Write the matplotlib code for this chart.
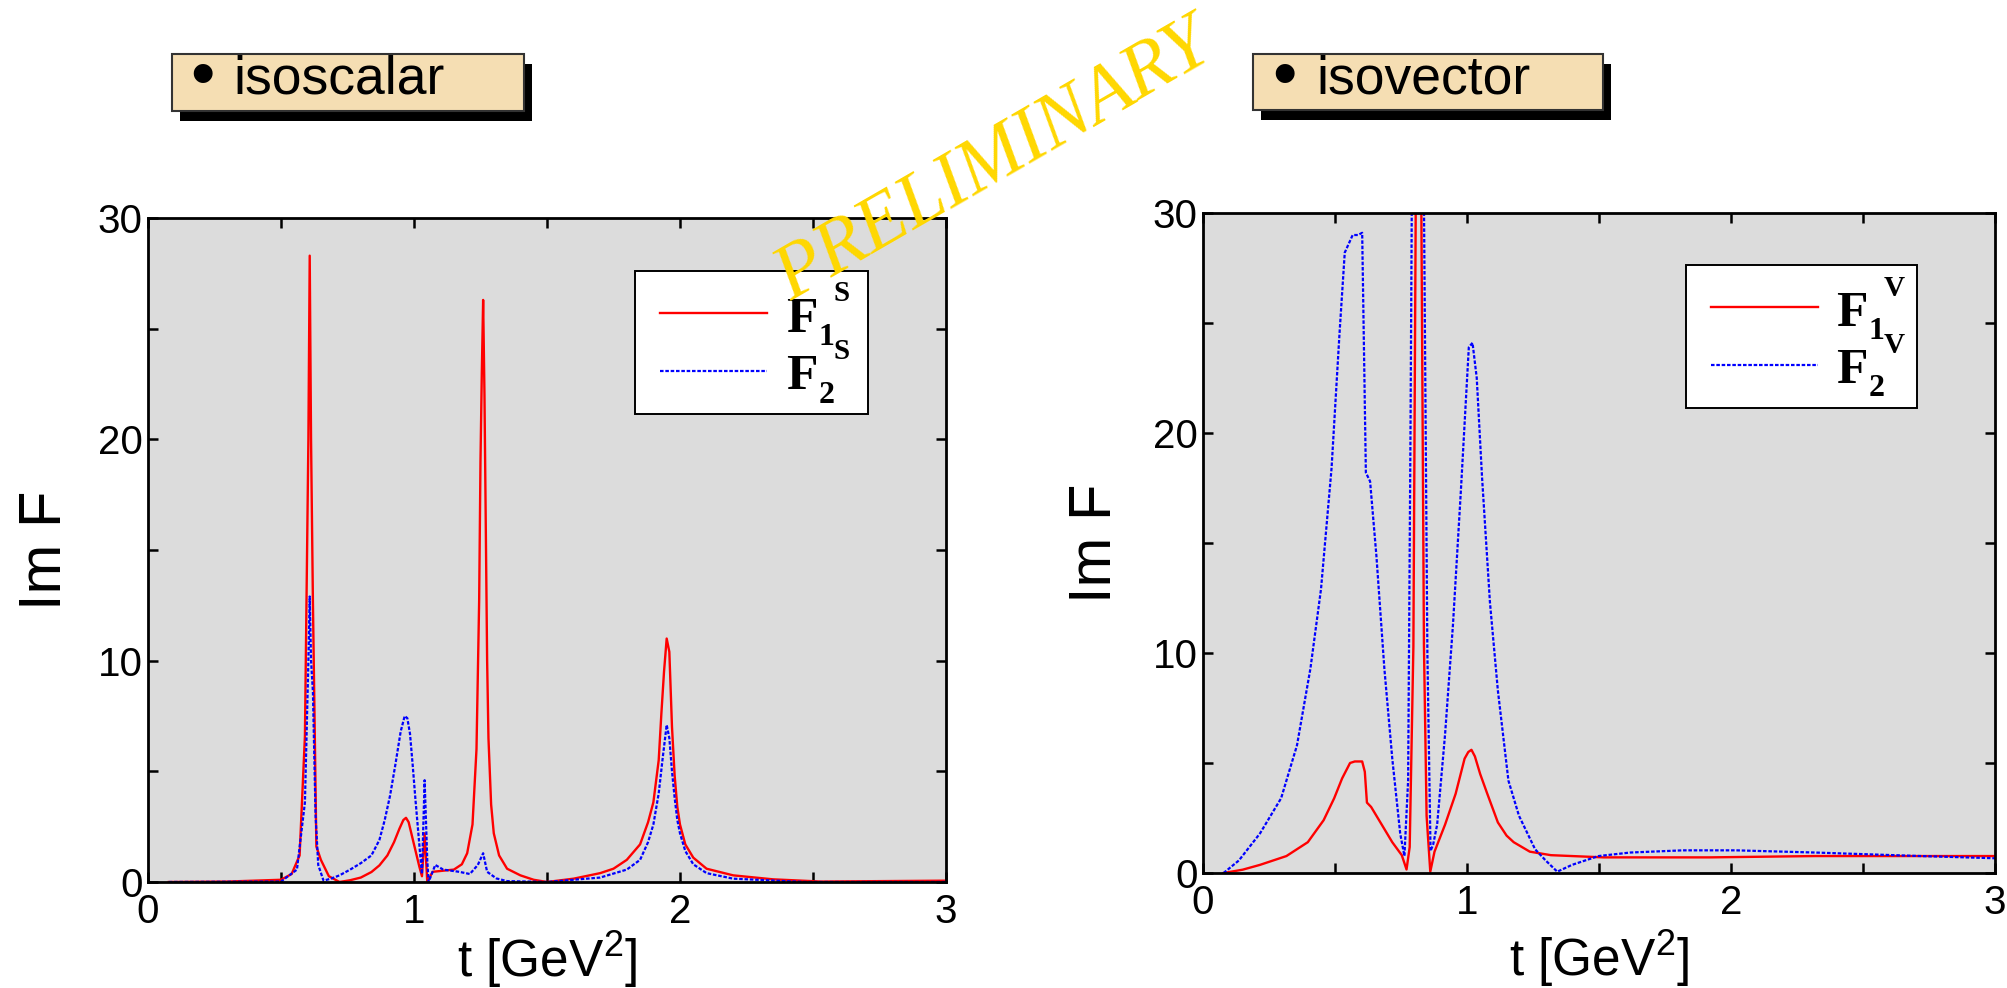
import matplotlib
matplotlib.use("Agg")
import matplotlib.pyplot as plt
from matplotlib.patches import Rectangle
from matplotlib.lines import Line2D

plt.rcParams['font.family'] = ['Liberation Sans', 'DejaVu Sans']
plt.rcParams['mathtext.fontset'] = 'custom'
plt.rcParams['mathtext.rm'] = 'Liberation Sans'
plt.rcParams['mathtext.it'] = 'Liberation Sans:italic'
plt.rcParams['mathtext.bf'] = 'Liberation Sans:bold'

# ---- isoscalar spectral functions ----
t_f1s = [0.078, 0.30, 0.50, 0.54, 0.57, 0.59, 0.603, 0.608, 0.613, 0.62, 0.633, 0.65,
         0.68, 0.72, 0.76, 0.80, 0.84, 0.87, 0.90, 0.925, 0.945, 0.96, 0.97, 0.98,
         0.99, 1.00, 1.01, 1.02, 1.03, 1.04, 1.05, 1.07, 1.15, 1.18, 1.20, 1.22,
         1.235, 1.245, 1.25, 1.255, 1.26, 1.265, 1.27, 1.275, 1.28, 1.29, 1.30,
         1.32, 1.35, 1.40, 1.45, 1.50, 1.60, 1.70, 1.75, 1.80, 1.85, 1.88, 1.90,
         1.92, 1.93, 1.94, 1.95, 1.96, 1.97, 1.98, 1.99, 2.00, 2.02, 2.05, 2.10,
         2.20, 2.35, 2.53, 3.0]
im_f1s = [0.0, 0.02, 0.1, 0.36, 1.2, 6.6, 20.0, 28.3, 20.0, 12.7, 1.6, 1.0,
          0.26, 0.0, 0.08, 0.2, 0.45, 0.75, 1.2, 1.8, 2.4, 2.8, 2.9, 2.7,
          2.2, 1.7, 1.2, 0.7, 0.26, 2.2, 0.0, 0.46, 0.56, 0.8, 1.3, 2.6,
          6.0, 12.7, 19.0, 23.0, 26.3, 22.0, 16.0, 10.0, 6.5, 3.5, 2.2,
          1.2, 0.6, 0.3, 0.1, 0.0, 0.15, 0.4, 0.6, 1.0, 1.7, 2.7, 3.6,
          5.5, 7.6, 9.5, 11.0, 10.4, 7.0, 4.8, 3.4, 2.6, 1.7, 1.1, 0.6,
          0.3, 0.12, 0.02, 0.06]

t_f2s = [0.078, 0.50, 0.56, 0.59, 0.603, 0.608, 0.613, 0.62, 0.63, 0.64, 0.66, 0.69,
         0.72, 0.76, 0.80, 0.84, 0.87, 0.89, 0.91, 0.93, 0.95, 0.965, 0.975, 0.985,
         0.995, 1.005, 1.015, 1.025, 1.03, 1.04, 1.05, 1.055, 1.08, 1.11, 1.17,
         1.21, 1.24, 1.26, 1.275, 1.31, 1.35, 1.50, 1.70, 1.80, 1.85, 1.88, 1.90,
         1.92, 1.935, 1.95, 1.96, 1.97, 1.98, 1.99, 2.00, 2.02, 2.05, 2.10, 2.20,
         2.47, 3.0]
im_f2s = [0.0, 0.02, 0.56, 3.6, 10.0, 12.9, 10.0, 8.6, 3.0, 0.77, 0.06, 0.16,
          0.3, 0.56, 0.85, 1.2, 1.9, 2.8, 3.9, 5.3, 6.8, 7.5, 7.4, 6.7,
          5.3, 3.8, 2.4, 1.0, 0.36, 4.6, 0.97, 0.0, 0.77, 0.56, 0.46,
          0.36, 0.77, 1.3, 0.46, 0.16, 0.04, 0.0, 0.2, 0.56, 1.0, 1.8, 2.6,
          4.0, 5.6, 7.1, 6.5, 5.0, 3.8, 2.8, 2.2, 1.4, 0.8, 0.4, 0.15,
          0.0, 0.0]

# ---- isovector spectral functions ----
t_f1v = [0.078, 0.15, 0.216, 0.316, 0.397, 0.457, 0.497, 0.527, 0.557, 0.575, 0.603,
         0.613, 0.621, 0.637, 0.677, 0.717, 0.753, 0.771, 0.783, 0.797, 0.806,
         0.814, 0.820, 0.827, 0.837, 0.847, 0.861, 0.877, 0.917, 0.957, 0.991,
         1.005, 1.017, 1.03, 1.05, 1.077, 1.117, 1.15, 1.177, 1.238, 1.318, 1.518,
         1.919, 2.319, 3.0]
im_f1v = [0.0, 0.15, 0.37, 0.77, 1.4, 2.4, 3.4, 4.3, 5.0, 5.07, 5.07,
          4.6, 3.2, 3.0, 2.2, 1.4, 0.81, 0.16, 1.18, 10.3, 30.5,
          45.0, 45.0, 30.5, 10.3, 2.6, 0.06, 0.97, 2.2, 3.6, 5.2,
          5.5, 5.6, 5.3, 4.5, 3.6, 2.3, 1.7, 1.4, 0.97, 0.81, 0.71,
          0.71, 0.77, 0.77]

t_f2v = [0.078, 0.136, 0.216, 0.296, 0.356, 0.407, 0.447, 0.487, 0.517, 0.537,
         0.567, 0.587, 0.603, 0.617, 0.633, 0.657, 0.687, 0.717, 0.747, 0.763,
         0.777, 0.786, 0.791, 0.80, 0.83, 0.837, 0.850, 0.862, 0.872, 0.887,
         0.917, 0.947, 0.977, 1.007, 1.021, 1.037, 1.057, 1.087, 1.117, 1.157,
         1.197, 1.258, 1.298, 1.342, 1.398, 1.498, 1.618, 1.818, 2.019, 2.319,
         2.72, 3.0]
im_f2v = [0.0, 0.57, 1.8, 3.4, 5.8, 9.3, 12.9, 18.4, 24.5, 28.2,
          29.0, 29.0, 29.1, 18.2, 17.8, 14.4, 9.3, 5.2, 1.8, 0.77,
          4.2, 20.0, 30.5, 45.0, 45.0, 30.5, 10.0, 1.0, 1.3, 2.2,
          6.3, 11.3, 17.4, 23.9, 24.1, 22.5, 18.0, 12.3, 8.3, 4.2,
          2.6, 1.08, 0.57, 0.06, 0.37, 0.77, 0.93, 1.03, 1.03, 0.93,
          0.77, 0.67]

x_ticks = [0, 1, 2, 3]
y_ticks = [0, 10, 20, 30]
panel_titles = ['isoscalar', 'isovector']
key_sub = ['1', '2']
key_sup = ['S', 'V']

RED = dict(color='#ff0000', lw=1.7, linestyle='-')
BLUE = dict(color='#0000ff', lw=1.6, linestyle=(0, (1.6, 0.8)))
SERIF_BOLD = dict(family='Liberation Serif', weight='bold')

fig = plt.figure(figsize=(20.08, 9.88), dpi=100)
ax1 = fig.add_axes([0.0737, 0.1073, 0.3974, 0.672])
ax2 = fig.add_axes([0.5991, 0.1164, 0.3944, 0.668])


def style_axes(ax, ylab_x, xlab_y):
    ax.set_facecolor('#dcdcdc')
    ax.set_xlim(0, 3)
    ax.set_ylim(0, 30)
    ax.set_xticks(x_ticks)
    ax.set_xticks([0.5, 1.5, 2.5], minor=True)
    ax.set_yticks(y_ticks)
    ax.set_yticks([5, 15, 25], minor=True)
    ax.tick_params(which='both', direction='in', top=True, right=True,
                   length=7, width=1.8)
    ax.tick_params(axis='x', labelsize=29, pad=8)
    ax.tick_params(axis='y', labelsize=29, pad=4)
    for sp in ax.spines.values():
        sp.set_linewidth(2.0)
    ax.set_xlabel(r't [GeV$^{\mathrm{2}}$]', fontsize=37)
    ax.set_ylabel('Im F', fontsize=43)
    ax.xaxis.label.set_va('center')
    ax.yaxis.label.set_va('center')
    ax.xaxis.set_label_coords(0.5, xlab_y)
    ax.yaxis.set_label_coords(ylab_x, 0.5)


def key(ax, sup):
    ax.add_patch(Rectangle((0.610, 0.705), 0.292, 0.216, transform=ax.transAxes,
                           fc='white', ec='black', lw=1.4, zorder=5))
    for sty, sub, y in zip([RED, BLUE], key_sub, [0.857, 0.770]):
        ax.add_line(Line2D([0.642, 0.776], [y, y], transform=ax.transAxes,
                           zorder=6, **sty))
        base = y - 0.028
        ax.text(0.800, base, 'F', transform=ax.transAxes, fontsize=37,
                va='baseline', ha='left', zorder=7, **SERIF_BOLD)
        ax.text(0.840, base - 0.020, sub, transform=ax.transAxes, fontsize=23,
                va='baseline', ha='left', zorder=7, **SERIF_BOLD)
        ax.text(0.859, base + 0.046, sup, transform=ax.transAxes, fontsize=21,
                va='baseline', ha='left', zorder=7, **SERIF_BOLD)


ax1.plot(t_f1s, im_f1s, **RED)
ax1.plot(t_f2s, im_f2s, **BLUE)
style_axes(ax1, -0.129, -0.117)
key(ax1, key_sup[0])

ax2.plot(t_f1v, im_f1v, **RED)
ax2.plot(t_f2v, im_f2v, **BLUE)
style_axes(ax2, -0.136, -0.130)
key(ax2, key_sup[1])

# title boxes with drop shadow
W, H = 2008.0, 988.0
for (x0, x1, y0, y1, bx, tx), title in zip(
        [(172, 524, 54, 111, 190, 233), (1253, 1603, 54, 110, 1272, 1316)], panel_titles):
    fig.add_artist(Rectangle(((x0 + 8) / W, 1 - (y1 + 10) / H), (x1 - x0) / W, (y1 - y0) / H,
                             transform=fig.transFigure, fc='black', ec='none'))
    fig.add_artist(Rectangle((x0 / W, 1 - y1 / H), (x1 - x0) / W, (y1 - y0) / H,
                             transform=fig.transFigure, fc='#f5deb3', ec='#333333', lw=1.5))
    fig.text(bx / W, 1 - 96 / H, '\u2022', fontsize=50, va='baseline', ha='left')
    fig.text(tx / W, 1 - 93 / H, title, fontsize=38.5, va='baseline', ha='left')

fig.text(994 / W, 1 - 162 / H, 'PRELIMINARY', rotation=30, color='#ffd700',
         fontsize=56, family='Liberation Serif', style='italic',
         ha='center', va='center', rotation_mode='anchor', zorder=10)

fig.savefig('out.png', dpi=100)
